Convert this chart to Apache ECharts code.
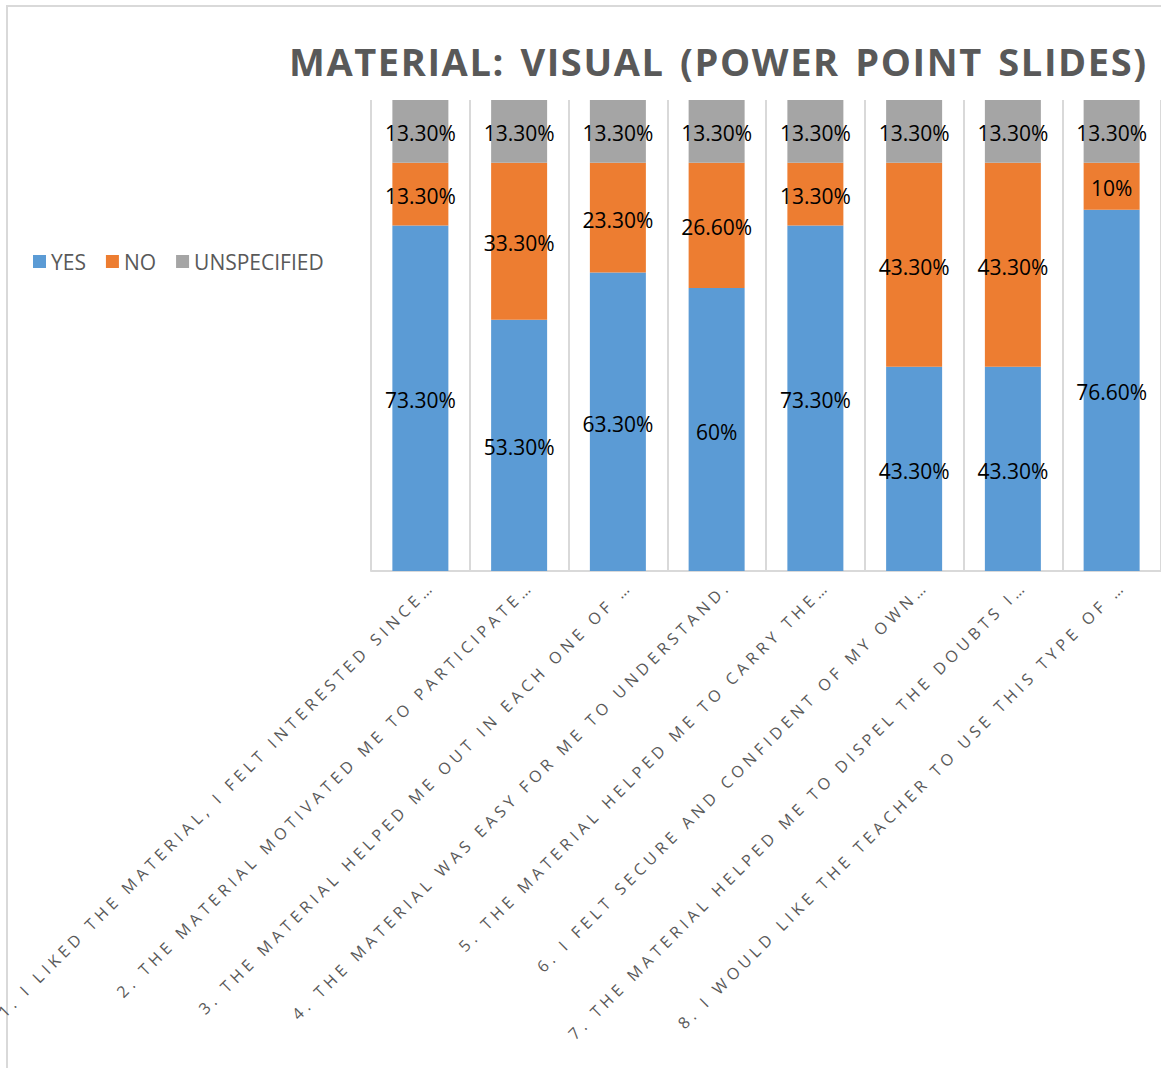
<!DOCTYPE html>
<html>
<head>
<meta charset="utf-8">
<script src="https://cdn.jsdelivr.net/npm/echarts@6.0.0/dist/echarts.min.js"></script>
<style>
html, body { margin: 0; padding: 0; background: #fff; }
#main { width: 1161px; height: 1068px; }
</style>
</head>
<body>
<div id="main"></div>
<script>
var categories = [
	'1. I LIKED THE MATERIAL, I FELT INTERESTED SINCE\u2026',
	'2. THE MATERIAL MOTIVATED ME TO PARTICIPATE\u2026',
	'3. THE MATERIAL HELPED ME OUT IN EACH ONE OF \u2026',
	'4. THE MATERIAL WAS EASY FOR ME TO UNDERSTAND.',
	'5. THE MATERIAL HELPED ME TO CARRY THE\u2026',
	'6. I FELT SECURE AND CONFIDENT OF MY OWN\u2026',
	'7. THE MATERIAL HELPED ME TO DISPEL THE DOUBTS I\u2026',
	'8. I WOULD LIKE THE TEACHER TO USE THIS TYPE OF \u2026'
];
var yesValues = [73.3, 53.3, 63.3, 60, 73.3, 43.3, 43.3, 76.6];
var noValues = [13.3, 33.3, 23.3, 26.6, 13.3, 43.3, 43.3, 10];
var unspecifiedValues = [13.3, 13.3, 13.3, 13.3, 13.3, 13.3, 13.3, 13.3];
var seriesNames = ['YES', 'NO', 'UNSPECIFIED'];
var titleText = 'MATERIAL: VISUAL (POWER POINT SLIDES)';

var colors = ['#5B9BD5', '#ED7D31', '#A5A5A5'];
var font = '"Open Sans", "Liberation Sans", sans-serif';

var chart = echarts.init(document.getElementById('main'), null, { renderer: 'svg' });

// 13.3 -> 13.30%, 60 -> 60%
function pct(v) {
	return (v % 1 === 0 ? v : v.toFixed(2)) + '%';
}

function makeSeries(name, data) {
	return {
		name: name,
		type: 'bar',
		stack: 'total',
		barWidth: 56,
		data: data,
		label: {
			show: true,
			position: 'inside',
			offset: [0, 2],
			color: '#000',
			fontFamily: font,
			fontSize: 21,
			formatter: function(p) { return pct(p.value); }
		}
	};
}

var option = {
	animation: false,
	color: colors,
	title: {
		text: titleText,
		left: 289,
		top: 42,
		padding: 0,
		textStyle: {
			color: '#595959',
			fontFamily: font,
			fontWeight: 'bold',
			fontSize: 38
		}
	},
	legend: {
		data: seriesNames,
		left: 33,
		top: 251,
		padding: 0,
		itemWidth: 13,
		itemHeight: 13,
		itemGap: 20,
		icon: 'rect',
		textStyle: {
			color: '#595959',
			fontFamily: font,
			fontSize: 21
		}
	},
	grid: {
		left: 371,
		top: 100,
		width: 790,
		height: 471,
		containLabel: false
	},
	xAxis: {
		type: 'category',
		data: categories,
		axisLine: { lineStyle: { color: '#d9d9d9', width: 2 } },
		axisTick: { show: false },
		splitLine: { show: true, interval: 0, lineStyle: { color: '#d9d9d9', width: 2 } },
		axisLabel: {
			interval: 0,
			rotate: 45,
			margin: 1,
			verticalAlign: 'top',
			lineHeight: 32,
			color: '#595959',
			fontFamily: font,
			fontSize: 16
		}
	},
	yAxis: {
		type: 'value',
		min: 0,
		max: 99.9,
		show: false
	},
	graphic: [
		{ type: 'line', shape: { x1: 6, y1: 6, x2: 1161, y2: 6 }, style: { stroke: '#d9d9d9', lineWidth: 2 } },
		{ type: 'line', shape: { x1: 7, y1: 6, x2: 7, y2: 1068 }, style: { stroke: '#d9d9d9', lineWidth: 2 } }
	],
	series: [
		makeSeries(seriesNames[0], yesValues),
		makeSeries(seriesNames[1], noValues),
		makeSeries(seriesNames[2], unspecifiedValues)
	]
};

chart.setOption(option);

// spread the letters like the original (title and axis labels)
function spreadLetters() {
	var texts = document.querySelectorAll('#main text');
	for (var i = 0; i < texts.length; i++) {
		var t = texts[i].textContent;
		if (t === titleText) {
			texts[i].style.letterSpacing = '1.6px';
			texts[i].style.wordSpacing = '4px';
		} else if (categories.indexOf(t) >= 0) {
			texts[i].style.letterSpacing = '4.5px';
		}
	}
}
chart.on('finished', spreadLetters);
spreadLetters();
</script>
</body>
</html>
